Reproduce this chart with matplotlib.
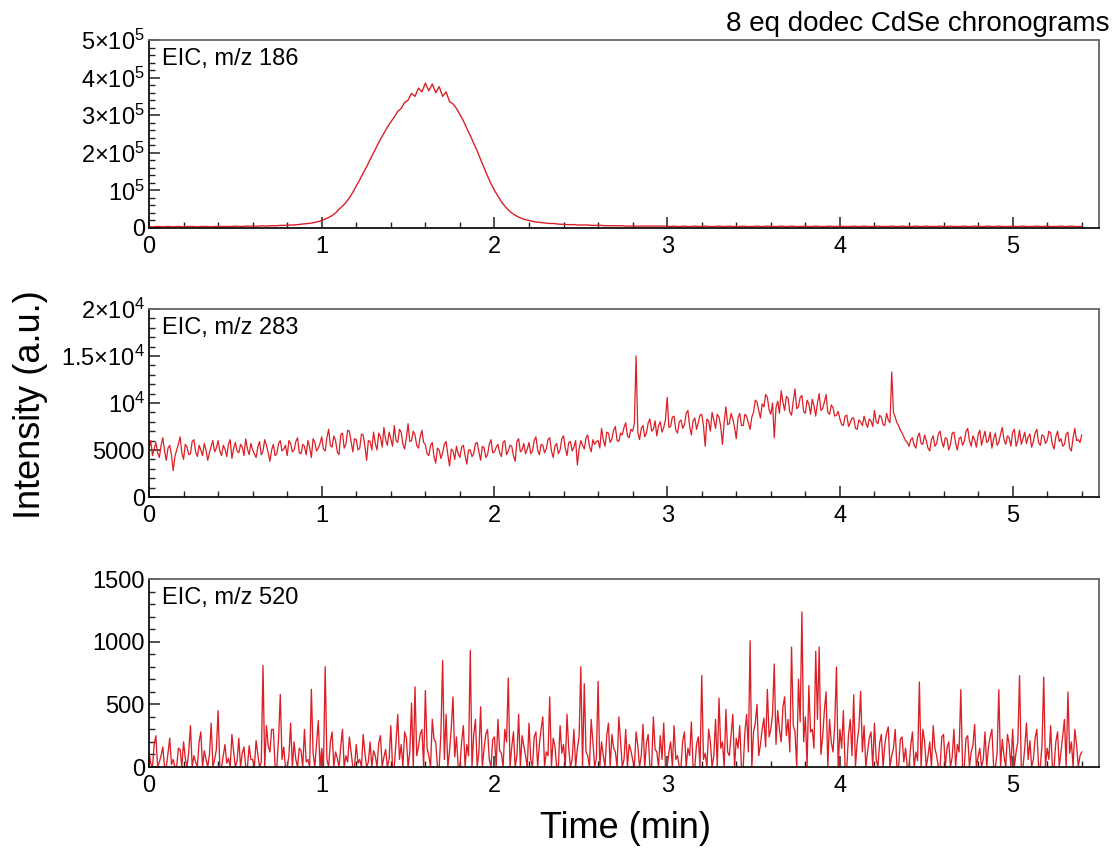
import numpy as np
import matplotlib
matplotlib.use("Agg")
import matplotlib.pyplot as plt
from matplotlib.ticker import FixedLocator, MultipleLocator

plt.rcParams['font.family'] = ['Liberation Sans', 'DejaVu Sans']
plt.rcParams['mathtext.fontset'] = 'custom'
plt.rcParams['mathtext.rm'] = 'Liberation Sans'
plt.rcParams['mathtext.it'] = 'Liberation Sans:italic'
plt.rcParams['mathtext.bf'] = 'Liberation Sans:bold'

# ---------------- data ----------------
dt_186 = 0.02   # sampling interval (min) of the m/z 186 trace as read
dt_fine = 0.01  # sampling interval (min) of the m/z 283 and 520 traces as read

# EIC m/z 186 (units of 1e3 counts)
eic186_k = [
    4, 3, 4, 4, 3, 4, 4, 3, 4, 4, 3, 4, 4, 4, 3, 4, 4, 4, 3, 4,
    4, 4, 4, 4, 4, 5, 4, 4, 5, 5, 5, 5, 5, 6, 5, 6, 6, 6, 7, 7,
    7,
    8, 8, 9, 10, 11, 12, 13, 15, 17, 20,
    24, 28, 33, 40, 50, 58, 68, 80, 95, 112,
    128, 146, 163, 182, 200, 218, 236, 252, 268, 282,
    295, 310, 318, 334, 340, 358, 350, 372, 362, 385,
    365, 383, 360, 376, 350, 362, 336, 330, 318, 302,
    285, 265, 246, 225, 205, 182, 160, 138, 118, 100,
    85, 70, 58, 48, 40, 34, 29, 25, 22, 20,
    18, 16, 15, 14, 13,
    12, 12, 11, 10, 10, 9, 9, 9, 8, 8,
    8, 8, 7, 7, 7, 7, 6, 6, 6, 6, 6, 6, 5, 5, 5, 5, 5, 5, 5, 5, 5, 5, 5, 5, 5,
    4, 5, 4, 4, 5, 4, 4, 5, 4, 4, 5, 4, 4, 4, 5, 4, 4, 5, 4, 4,
    4, 5, 4, 4, 4, 5, 4, 4, 5, 4, 4, 4, 5, 4, 4, 5, 4, 4, 4, 5,
    4, 4, 5, 4, 4, 4, 5, 4, 4, 5, 4, 4, 4, 5, 4, 4, 5, 4, 4, 4,
    5, 4, 4, 4, 5, 4, 4, 5, 4, 4, 4, 5, 4, 4, 5, 4, 4, 4, 5, 4,
    4, 5, 4, 4, 4, 5, 4, 4, 5, 4, 4, 4, 5, 4, 4, 5, 4, 4, 4, 5,
    4, 4, 5, 4, 4, 4, 5, 4, 4, 5, 4, 4, 4, 5, 4, 4, 5, 4, 4, 4,
]

# EIC m/z 283 (units of 1e3 counts)
eic283_k = [
    5.2, 6.0, 4.4, 5.1, 5.8, 4.7, 4.2, 5.5, 6.3, 4.9, 3.9, 5.2, 5.5, 4.5, 2.8, 4.3, 5.0, 5.6, 6.4, 4.7,
    4.0, 5.6, 5.3, 4.5, 4.6, 5.9, 6.1, 4.8, 4.3, 5.5, 5.0, 4.4, 5.7, 5.0, 3.9, 4.7, 5.4, 6.0, 4.8, 5.2,
    6.0, 4.9, 4.4, 5.5, 5.1, 4.3, 5.6, 6.1, 4.1, 5.2, 5.8, 4.9, 4.7, 5.6, 5.3, 4.4, 6.2, 5.1, 4.5, 5.7,
    5.0, 4.6, 4.2, 5.3, 5.9, 4.5, 4.9, 6.1, 5.5, 4.7, 3.8, 5.0, 5.6, 4.4, 4.6, 5.7, 6.0, 4.9, 5.1, 5.5,
    4.4, 6.0, 5.7, 4.8, 5.0, 5.9, 6.3, 4.7, 4.6, 5.6, 5.4, 4.5, 6.0, 5.3, 4.2, 6.2, 5.8, 4.9, 5.2, 5.7,
    6.4, 5.1, 4.9, 6.3, 7.2, 5.5, 5.3, 6.5, 6.0, 4.8, 4.5, 6.6, 6.8, 5.2, 5.6, 7.1, 7.0, 5.9, 4.8, 6.2,
    6.1, 5.0, 5.2, 6.7, 6.6, 5.4, 3.9, 6.0, 5.9, 5.0, 6.9, 5.7, 5.0, 6.8, 6.4, 5.3, 7.4, 6.1, 5.5, 6.9,
    6.2, 5.4, 7.6, 6.0, 5.8, 7.2, 6.9, 5.6, 5.1, 6.3, 7.8, 5.9, 6.0, 7.0, 6.6, 5.5, 5.2, 6.4, 7.1, 5.8,
    5.6, 4.6, 4.4, 5.5, 5.8, 4.3, 3.6, 5.2, 5.0, 4.1, 4.7, 5.6, 5.9, 4.5, 3.3, 5.1, 4.9, 4.0, 5.4, 4.6,
    4.2, 5.3, 5.5, 4.4, 3.5, 5.0, 5.0, 4.3, 4.6, 5.7, 5.8, 4.8, 3.9, 5.4, 5.2, 4.2, 4.5, 5.6, 6.1, 4.7, 4.8, 5.3,
    5.6, 4.7, 4.3, 5.8, 6.0, 4.5, 4.9, 5.5, 5.4, 4.4, 3.8, 5.9, 6.2, 4.8, 5.0, 5.7, 4.6, 5.1, 5.8, 4.6,
    4.9, 6.0, 6.4, 5.0, 4.5, 5.6, 5.5, 4.7, 5.1, 6.1, 6.3, 4.9, 4.2, 5.4, 5.7, 4.6, 5.0, 6.2, 6.5, 5.2,
    4.4, 5.8, 5.9, 4.9, 5.3, 6.0, 3.4, 5.1, 6.0, 5.5, 5.1, 6.3, 6.6, 5.4, 4.8, 6.1, 5.6, 5.9,
    6.0, 5.2, 7.3, 6.1, 5.4, 6.9, 6.8, 5.8, 6.2, 7.1, 7.5, 6.0, 5.9, 6.8, 6.6, 7.4, 7.9, 6.5, 6.3, 7.2,
    7.0, 7.8, 15.0, 6.9, 6.1, 7.3, 7.6, 6.4, 6.8, 7.9, 8.3, 7.0, 7.2, 8.1, 6.5, 7.6, 8.0, 6.9, 7.4, 8.2,
    10.6, 7.4, 7.5, 8.5, 8.6, 7.1, 6.8, 8.0, 8.2, 7.3, 7.7, 8.9, 9.2, 7.5, 6.6, 8.1, 8.4, 7.2, 7.9, 8.7,
    8.8, 7.6, 5.4, 8.3, 8.1, 7.0, 9.0, 8.2, 7.3, 8.8, 8.5, 7.5, 5.6, 8.0, 9.6, 7.7, 7.8, 8.9, 8.3, 7.4,
    6.2, 8.4, 8.9, 7.6, 7.6, 8.8, 8.6, 7.9, 7.2, 8.5,
    9.0, 10.3, 10.1, 9.2, 8.4, 9.9, 9.6, 10.9, 10.6, 9.3, 8.8, 10.0, 6.3, 9.5, 10.2, 8.9, 11.3, 10.1, 9.2, 10.7,
    10.5, 9.0, 8.7, 10.2, 11.5, 9.4, 9.6, 10.6, 10.8, 9.1, 8.9, 10.3, 9.9, 8.8, 10.4, 9.7, 8.6, 10.0, 11.0, 9.2,
    9.4, 10.1, 10.9, 9.0, 8.8, 9.8, 9.5, 8.6, 8.7, 9.1,
    8.3, 7.7, 7.6, 8.6, 8.7, 7.5, 7.9, 8.4, 8.4, 7.3, 7.2, 8.2, 8.0, 7.6, 8.6, 7.9, 7.4, 8.3, 8.1, 7.5,
    9.2, 8.0, 7.8, 8.7, 8.5, 7.7, 7.6, 8.9, 8.2, 7.9,
    13.3, 9.0,
    8.5, 7.9, 7.6, 7.1, 6.8, 6.4, 6.0, 5.8, 5.4, 6.1,
    6.3, 5.5, 5.2, 6.4, 6.8, 5.7, 5.6, 6.6, 6.0, 5.2, 4.9, 6.1, 6.5, 5.4, 5.7, 6.7, 7.0, 5.9, 5.3, 6.3,
    6.2, 5.0, 5.6, 6.8, 6.9, 5.7, 5.0, 6.2, 6.4, 5.5, 5.9, 7.0, 7.3, 6.0, 5.4, 6.5, 6.1, 5.3, 6.6, 7.1,
    5.5, 6.3, 7.0, 5.8, 6.0, 6.9, 5.2, 6.2, 6.8, 5.5, 5.8, 6.7, 7.4, 6.1, 5.6, 6.5, 6.3, 5.4, 6.9, 7.2,
    5.4, 6.0, 7.1, 5.6, 6.2, 6.9, 5.7, 6.4, 6.7, 5.3, 5.9, 6.8, 7.2, 5.8, 5.5, 6.6, 6.5, 5.7, 6.0, 7.0,
    6.8, 5.6, 5.1, 6.4, 7.0, 5.9, 6.2, 5.4, 5.6, 6.7, 6.9, 5.2, 4.9, 6.3, 7.3, 6.0, 6.1, 5.8, 6.6,
]

# EIC m/z 520 (counts)
eic520 = [
    120, 30, 0, 180, 250, 0, 40, 90, 160, 0, 0, 110, 230, 20, 60, 0, 0, 150, 140, 0,
    200, 70, 0, 120, 330, 0, 90, 40, 0, 200, 280, 0, 130, 60, 0, 100, 350, 0, 60, 140,
    450, 0, 0, 90, 180, 30, 70, 0, 260, 120, 0, 50, 230, 0, 110, 160, 0, 0, 170, 60,
    60, 0, 210, 100, 0, 40, 810, 0, 330, 170, 120, 300, 300, 0, 0, 220, 580, 60, 160, 0,
    0, 90, 350, 0, 200, 60, 0, 150, 130, 0, 300, 40, 60, 0, 620, 110, 0, 190, 370, 0,
    150, 0, 800, 60, 0, 200, 280, 0, 120, 70, 0, 160, 300, 0, 90, 40, 240, 120, 0, 0,
    180, 30, 60, 0, 260, 110, 0, 40, 200, 0, 130, 90, 0, 190, 250, 0, 80, 140, 0, 60,
    330, 0, 0, 200, 420, 60, 180, 0, 280, 230, 0, 120, 510, 0, 640, 90, 160, 260, 300, 0,
    610, 150, 90, 0, 380, 220, 200, 0, 0, 270, 850, 60, 420, 0, 130, 310, 560, 80, 240, 0,
    0, 200, 330, 0, 180, 90, 930, 0, 260, 380, 0, 120, 480, 0, 150, 260, 300, 60, 0, 220,
    240, 0, 380, 130, 110, 0, 300, 200, 710, 0, 160, 280, 0, 90, 420, 0, 250, 170, 90, 0,
    350, 60, 0, 240, 280, 0, 180, 300, 400, 0, 120, 90, 560, 0, 230, 170, 0, 0, 330, 110,
    180, 0, 420, 150, 0, 60, 300, 0, 150, 240, 800, 0, 665, 120, 90, 0, 380, 200, 0, 70,
    683, 0, 200, 90, 0, 250, 350, 0, 260, 150, 120, 0, 400, 210, 0, 60, 300, 0, 180, 130,
    60, 0, 280, 170, 0, 90, 340, 0, 190, 260, 0, 0, 400, 140, 120, 0, 250, 60, 350, 0,
    0, 120, 200, 0, 330, 60, 90, 0, 0, 210, 280, 0, 150, 90, 360, 0, 0, 180, 240, 0,
    731, 60, 110, 0, 300, 200, 0, 90, 380, 0, 550, 150, 200, 0, 460, 120, 90, 260, 420, 0,
    230, 150, 330, 0, 0, 280, 420, 120, 1008, 0, 280, 350, 500, 90, 180, 300, 390, 160, 620, 240,
    300, 420, 822, 180, 450, 300, 200, 480, 560, 250, 380, 120, 957, 330, 280, 0, 700, 360, 1237, 200,
    400, 0, 650, 280, 300, 150, 923, 380, 957, 100, 240, 450, 600, 0, 380, 200, 120, 330, 798, 0,
    300, 150, 450, 0, 0, 260, 380, 90, 577, 0, 200, 310, 604, 120, 330, 0, 120, 230, 280, 0,
    350, 60, 0, 190, 260, 0, 180, 270, 320, 0, 90, 150, 300, 0, 0, 220, 240, 40, 150, 0,
    0, 170, 280, 0, 120, 50, 678, 0, 300, 210, 0, 90, 200, 0, 330, 150, 90, 0, 0, 240,
    260, 0, 150, 200, 0, 80, 300, 0, 180, 120, 617, 0, 0, 230, 250, 0, 120, 170, 340, 0,
    80, 150, 0, 60, 280, 0, 160, 240, 300, 0, 0, 110, 617, 0, 220, 90, 0, 260, 180, 0,
    300, 0, 120, 200, 729, 0, 0, 150, 350, 60, 210, 0, 60, 230, 300, 0, 0, 170, 718, 0,
    150, 60, 330, 0, 0, 200, 280, 0, 120, 250, 380, 0, 598, 110, 200, 0, 300, 180, 0, 90,
    120,
]

panel_labels = ["EIC, m/z 186", "EIC, m/z 283", "EIC, m/z 520"]
x_ticks = [0, 1, 2, 3, 4, 5]
x_ticklabels = ["0", "1", "2", "3", "4", "5"]

y1_ticks = [0, 1e5, 2e5, 3e5, 4e5, 5e5]
y1_labels = ["0", r"$10^{5}$", r"$2{\times}10^{5}$", r"$3{\times}10^{5}$",
             r"$4{\times}10^{5}$", r"$5{\times}10^{5}$"]
y2_ticks = [0, 5000, 1e4, 1.5e4, 2e4]
y2_labels = ["0", "5000", r"$10^{4}$", r"$1.5{\times}10^{4}$", r"$2{\times}10^{4}$"]
y3_ticks = [0, 500, 1000, 1500]
y3_labels = ["0", "500", "1000", "1500"]

title = "8 eq dodec CdSe chronograms"
xlabel = "Time (min)"
ylabel = "Intensity (a.u.)"

# ---------------- plotting ----------------
W, H = 1115, 852
fig = plt.figure(figsize=(W / 100, H / 100), dpi=100)

left = 149 / W
width = (1099 - 149) / W
ph = 188 / H
bottoms = [1 - 228 / H, 1 - 497 / H, 1 - 767 / H]

series = [np.array(eic186_k) * 1e3, np.array(eic283_k) * 1e3, np.array(eic520, dtype=float)]
steps = [dt_186, dt_fine, dt_fine]
yticks = [y1_ticks, y2_ticks, y3_ticks]
ylabels_list = [y1_labels, y2_labels, y3_labels]
yminor = [2e4, 1000, 100]
ylims = [(0, 5e5), (0, 2e4), (0, 1500)]
lws = [1.0, 0.9, 0.95]

red = '#dc1f26'
for k in range(3):
    ax = fig.add_axes([left, bottoms[k], width, ph])
    y = series[k]
    t = np.arange(len(y)) * steps[k]
    ax.plot(t, y, color=red, lw=lws[k])
    ax.set_xlim(0, 5.5)
    ax.set_ylim(*ylims[k])
    ax.xaxis.set_major_locator(FixedLocator(x_ticks))
    ax.set_xticklabels(x_ticklabels)
    ax.xaxis.set_minor_locator(FixedLocator([v for v in np.arange(0, 5.41, 0.2)]))
    ax.yaxis.set_major_locator(FixedLocator(yticks[k]))
    ax.set_yticklabels(ylabels_list[k])
    ax.yaxis.set_minor_locator(MultipleLocator(yminor[k]))
    ax.tick_params(axis='both', which='major', direction='in', length=8, width=1.1,
                   labelsize=17, color='#222222')
    ax.tick_params(axis='both', which='minor', direction='in', length=4, width=1.0,
                   color='#222222')
    ax.tick_params(axis='x', which='major', pad=6)
    ax.tick_params(axis='y', which='major', pad=3)
    ax.tick_params(top=False, right=False, which='both')
    for s in ['left', 'bottom']:
        ax.spines[s].set_color('#111111')
        ax.spines[s].set_linewidth(1.3)
    for s in ['top', 'right']:
        ax.spines[s].set_color('#666666')
        ax.spines[s].set_linewidth(1.3)
    ax.text(0.0137, 0.9, panel_labels[k], transform=ax.transAxes, fontsize=17,
            ha='left', va='center')

fig.text(1110 / W, 1 - 24 / H, title, fontsize=20, ha='right', va='center')
fig.text(625 / W, 1 - 829 / H, xlabel, fontsize=26, ha='center', va='center')
fig.text(31 / W, 1 - 405 / H, ylabel, fontsize=26, ha='center', va='center', rotation=90)

fig.savefig("out.png", dpi=100)
